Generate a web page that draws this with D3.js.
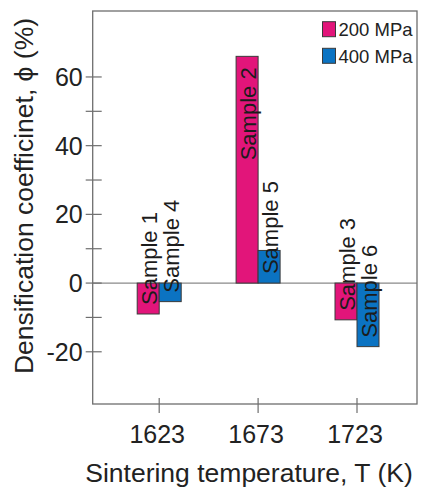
<!DOCTYPE html>
<html>
<head>
<meta charset="utf-8">
<script src="https://cdn.jsdelivr.net/npm/d3@7/dist/d3.min.js"></script>
<style>
  html, body { margin: 0; padding: 0; background: #fff; }
  svg { display: block; font-family: "Liberation Sans", Arial, sans-serif; }
</style>
</head>
<body>
<svg id="chart" width="424" height="490"></svg>
<script>
// ---- data ----
const temperatures = ["1623", "1673", "1723"];
const series = ["200 MPa", "400 MPa"];
const values200 = [-9.0, 66, -10.7];
const values400 = [-5.4, 9.5, -18.5];
const labels200 = ["Sample 1", "Sample 2", "Sample 3"];
const labels400 = ["Sample 4", "Sample 5", "Sample 6"];
const majorTicks = [-20, 0, 20, 40, 60];
const minorTicks = [-10, 10, 30, 50];
const colors = ["#E2157A", "#0B73C2"];
const xTitle = "Sintering temperature, T (K)";
const yTitle = "Densification coefficinet, \u03D5 (%)";

// ---- layout ----
const W = 424, H = 490;
const plot = { left: 92.7, top: 11, right: 417, bottom: 404 };

const svg = d3.select("#chart");

const y = d3.scaleLinear().domain([-35.2, 79.2]).range([plot.bottom, plot.top]);
const x = d3.scalePoint().domain(temperatures).range([plot.left + 66.5, plot.right - 60]);
const xs = d3.scaleBand().domain(series).range([-22, 22]).padding(0);
const color = d3.scaleOrdinal().domain(series).range(colors);

const rows = [];
temperatures.forEach((t, i) => {
  rows.push({ t, s: series[0], v: values200[i], label: labels200[i] });
  rows.push({ t, s: series[1], v: values400[i], label: labels400[i] });
});

// zero line
svg.append("line")
  .attr("x1", plot.left).attr("x2", plot.right)
  .attr("y1", y(0)).attr("y2", y(0))
  .attr("stroke", "#8a8a8a").attr("stroke-width", 1.2);

// bars
svg.append("g").selectAll("rect").data(rows).join("rect")
  .attr("x", d => x(d.t) + xs(d.s))
  .attr("width", xs.bandwidth())
  .attr("y", d => y(Math.max(0, d.v)))
  .attr("height", d => Math.abs(y(d.v) - y(0)))
  .attr("fill", d => color(d.s))
  .attr("stroke", "#3a3a3a").attr("stroke-width", 1);

// bar labels (rotated)
const labelFont = 22;
svg.append("g").selectAll("text").data(rows).join("text")
  .attr("font-size", labelFont)
  .attr("fill", "#1c1c1c")
  .text(d => d.label)
  .each(function(d) {
    const cx = x(d.t) + xs(d.s) + xs.bandwidth() / 2;
    const len = this.getComputedTextLength();
    const barH = Math.abs(y(d.v) - y(0));
    let yy, anchor;
    if (d.v > 0 && barH > len + 20) {
      yy = y(d.v) + 11; anchor = "end";
    } else {
      yy = Math.max(y(d.v), y(0)) - 9; anchor = "start";
    }
    d3.select(this)
      .attr("text-anchor", anchor)
      .attr("transform", `translate(${cx + 9},${yy}) rotate(-90)`);
  });

// frame
svg.append("rect")
  .attr("x", plot.left).attr("y", plot.top)
  .attr("width", plot.right - plot.left).attr("height", plot.bottom - plot.top)
  .attr("fill", "none").attr("stroke", "#6e6e6e").attr("stroke-width", 1.3);

// y axis ticks
const yAxis = svg.append("g");
yAxis.selectAll("line.major").data(majorTicks.concat(minorTicks)).join("line")
  .attr("x1", plot.left - 7).attr("x2", plot.left + 9)
  .attr("y1", d => y(d)).attr("y2", d => y(d))
  .attr("stroke", "#6e6e6e").attr("stroke-width", 1.2);
yAxis.selectAll("text").data(majorTicks).join("text")
  .attr("x", plot.left - 10).attr("y", d => y(d))
  .attr("dy", "0.36em")
  .attr("text-anchor", "end")
  .attr("font-size", 25).attr("fill", "#222")
  .text(d => d);

// x axis ticks
const xAxis = svg.append("g");
xAxis.selectAll("line").data(temperatures).join("line")
  .attr("x1", d => x(d)).attr("x2", d => x(d))
  .attr("y1", plot.bottom - 6).attr("y2", plot.bottom + 9)
  .attr("stroke", "#6e6e6e").attr("stroke-width", 1.2);
xAxis.selectAll("text").data(temperatures).join("text")
  .attr("x", d => x(d) - 2).attr("y", 443)
  .attr("text-anchor", "middle")
  .attr("font-size", 25).attr("fill", "#222")
  .text(d => d);

// axis titles
svg.append("text")
  .attr("x", 249).attr("y", 482)
  .attr("text-anchor", "middle")
  .attr("font-size", 26.5).attr("fill", "#222")
  .text(xTitle);
svg.append("text")
  .attr("transform", "translate(33,196) rotate(-90)")
  .attr("text-anchor", "middle")
  .attr("font-size", 26.5).attr("fill", "#222")
  .text(yTitle);

// legend
const legend = svg.append("g");
series.forEach((s, i) => {
  const g = legend.append("g").attr("transform", `translate(322.5,${21.7 + i * 26.6})`);
  g.append("rect").attr("width", 13).attr("height", 15)
    .attr("fill", color(s)).attr("stroke", "#3a3a3a").attr("stroke-width", 1);
  g.append("text").attr("x", 16).attr("y", 14.5)
    .attr("font-size", 18.5).attr("fill", "#222").text(s);
});
</script>
</body>
</html>
